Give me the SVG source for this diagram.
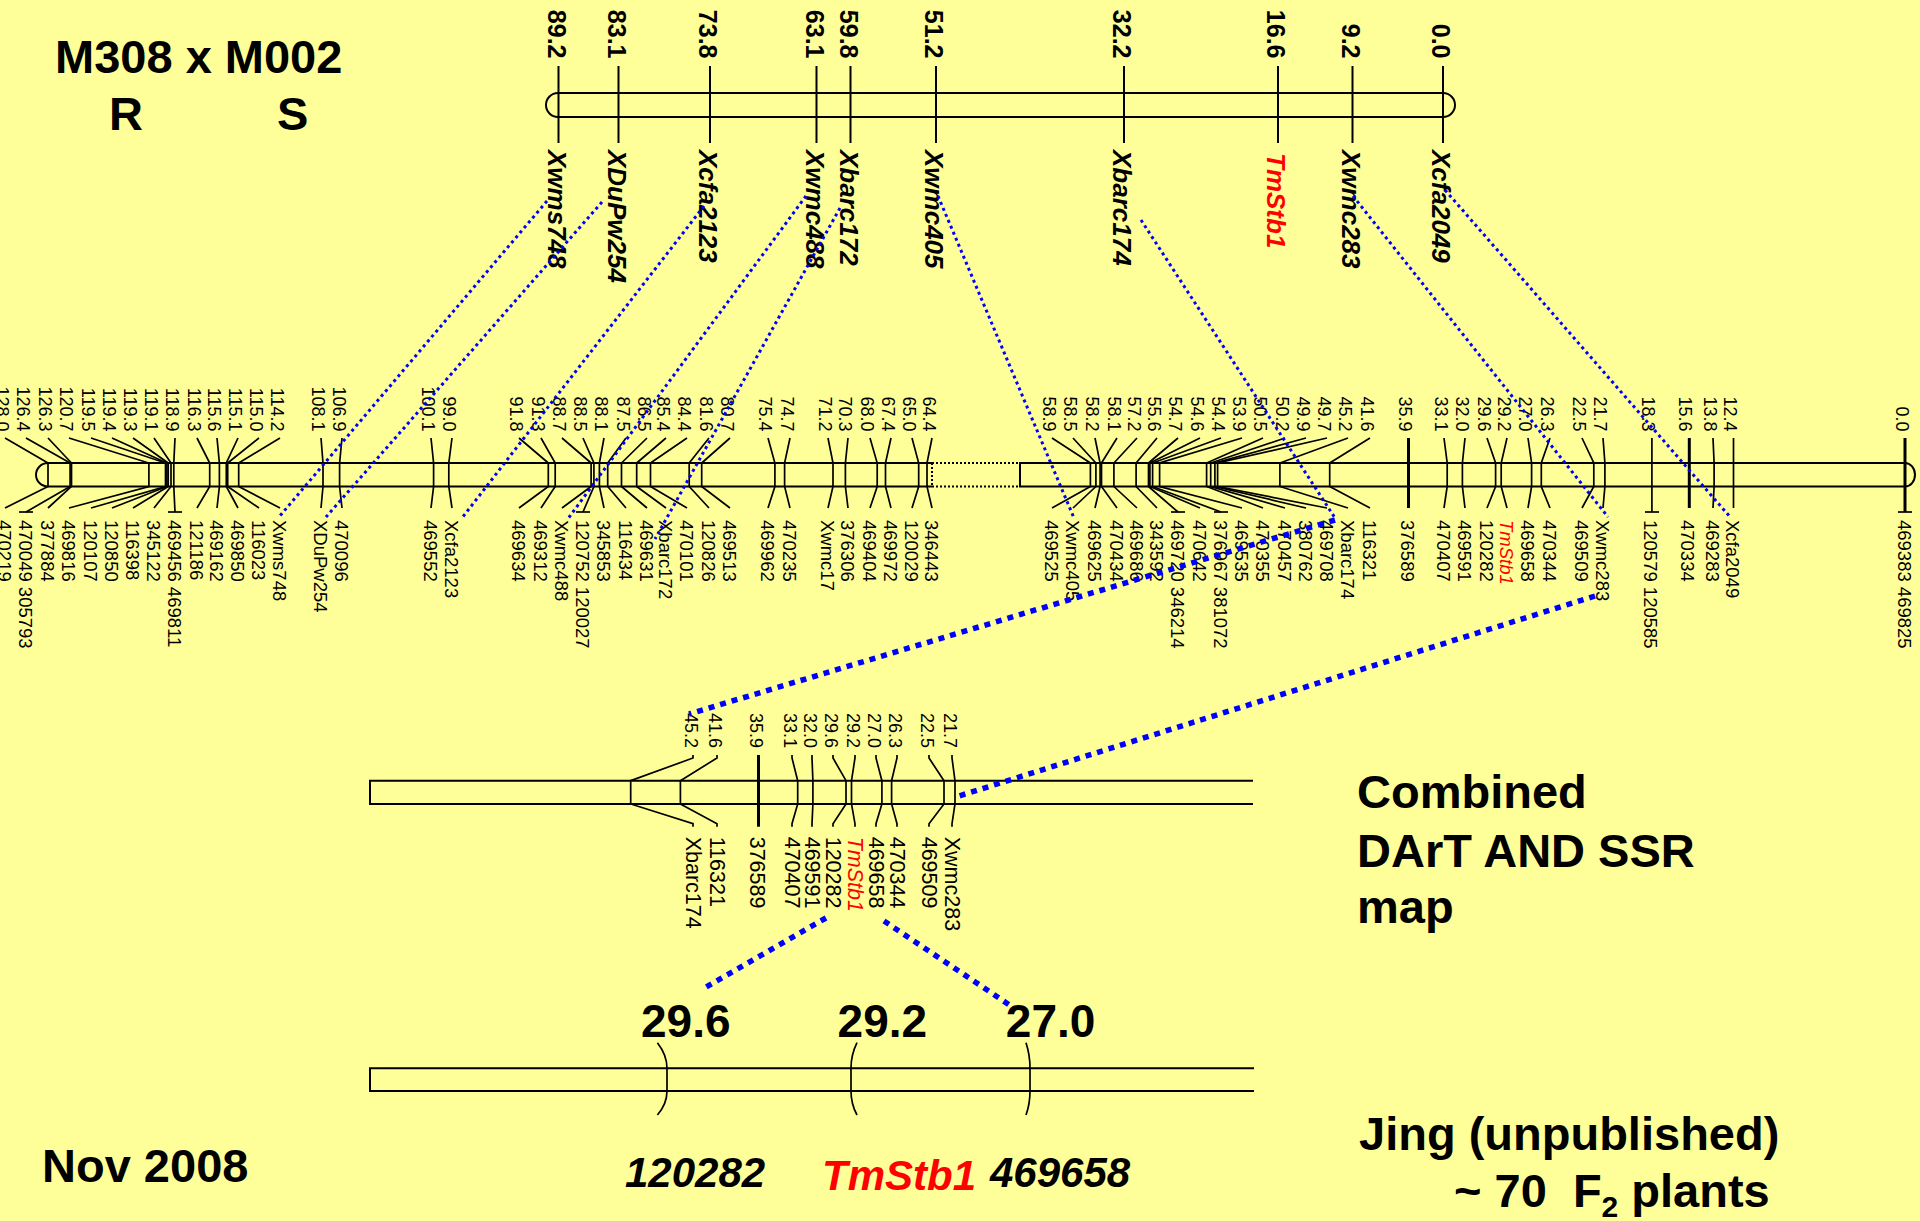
<svg xmlns="http://www.w3.org/2000/svg" width="1920" height="1221" viewBox="0 0 1920 1221">
<style>
text{font-family:'Liberation Sans',Arial,Helvetica,sans-serif;fill:#000}
.big{font-size:47px;font-weight:bold}
.pos{font-size:46px;font-weight:bold}
.loc{font-size:42px;font-weight:bold;font-style:italic}
.r{dominant-baseline:central}
.tn{font-size:25px;font-weight:bold;text-anchor:end}
.tl{font-size:26px;font-weight:bold;font-style:italic}
.mn{font-size:18px;text-anchor:end}
.ml{font-size:18.5px}
.cn{font-size:18px;text-anchor:end}
.cl{font-size:21.5px}
.red{fill:#f00;font-style:italic}
.chr{fill:none;stroke:#000;stroke-width:2}
.tick{stroke:#000;stroke-width:2}
.lk{fill:none;stroke:#000;stroke-width:1.7}
.thick{stroke-width:3}
.dot1{fill:none;stroke:#00f;stroke-width:3;stroke-dasharray:3 3.5}
.dot2{fill:none;stroke:#00f;stroke-width:5.5;stroke-dasharray:6 6}
.gap{fill:none;stroke:#000;stroke-width:2;stroke-dasharray:2 2}
</style>
<rect width="1920" height="1221" fill="#ffff99"/>

<!-- titles and notes -->
<g id="titles">
<text class="big" x="55" y="73">M308 x M002</text>
<text class="big" x="109" y="130">R</text>
<text class="big" x="277" y="130">S</text>
<text class="big" x="1357" y="808">Combined</text>
<text class="big" x="1357" y="866.7">DArT AND SSR</text>
<text class="big" x="1357" y="922.7">map</text>
<text class="big" x="1359" y="1150">Jing (unpublished)</text>
<text class="big" x="1454" y="1206.7" xml:space="preserve">~ 70  F<tspan style="font-size:30px" dy="10">2</tspan><tspan dy="-10"> plants</tspan></text>
<text class="big" x="42" y="1181.7">Nov 2008</text>
</g>

<!-- SSR linkage group -->
<g id="top-map">
<rect class="chr" x="546" y="93" width="909" height="24" rx="12" ry="12"/>
<g id="t-Xwms748"><line class="tick" x1="558.5" y1="66" x2="558.5" y2="143"/><text class="tn r" transform="translate(556.5,58.5) rotate(90)">89.2</text><text class="tl r" transform="translate(556.5,150) rotate(90)">Xwms748</text></g>
<g id="t-XDuPw254"><line class="tick" x1="618.5" y1="66" x2="618.5" y2="143"/><text class="tn r" transform="translate(616.5,58.5) rotate(90)">83.1</text><text class="tl r" transform="translate(616.5,150) rotate(90)">XDuPw254</text></g>
<g id="t-Xcfa2123"><line class="tick" x1="710" y1="66" x2="710" y2="143"/><text class="tn r" transform="translate(708,58.5) rotate(90)">73.8</text><text class="tl r" transform="translate(708,150) rotate(90)">Xcfa2123</text></g>
<g id="t-Xwmc488"><line class="tick" x1="816.5" y1="66" x2="816.5" y2="143"/><text class="tn r" transform="translate(814.5,58.5) rotate(90)">63.1</text><text class="tl r" transform="translate(814.5,150) rotate(90)">Xwmc488</text></g>
<g id="t-Xbarc172"><line class="tick" x1="850.5" y1="66" x2="850.5" y2="143"/><text class="tn r" transform="translate(848.5,58.5) rotate(90)">59.8</text><text class="tl r" transform="translate(848.5,150) rotate(90)">Xbarc172</text></g>
<g id="t-Xwmc405"><line class="tick" x1="936" y1="66" x2="936" y2="143"/><text class="tn r" transform="translate(934,58.5) rotate(90)">51.2</text><text class="tl r" transform="translate(934,150) rotate(90)">Xwmc405</text></g>
<g id="t-Xbarc174"><line class="tick" x1="1124" y1="66" x2="1124" y2="143"/><text class="tn r" transform="translate(1122,58.5) rotate(90)">32.2</text><text class="tl r" transform="translate(1122,150) rotate(90)">Xbarc174</text></g>
<g id="t-TmStb1"><line class="tick" x1="1278" y1="66" x2="1278" y2="143" stroke-width="1.5"/><text class="tn r" transform="translate(1276,58.5) rotate(90)">16.6</text><text class="tl r red" transform="translate(1276,153) rotate(90)">TmStb1</text></g>
<g id="t-Xwmc283"><line class="tick" x1="1352.5" y1="66" x2="1352.5" y2="143"/><text class="tn r" transform="translate(1350.5,58.5) rotate(90)">9.2</text><text class="tl r" transform="translate(1350.5,150) rotate(90)">Xwmc283</text></g>
<g id="t-Xcfa2049"><line class="tick" x1="1443" y1="66" x2="1443" y2="143"/><text class="tn r" transform="translate(1441,58.5) rotate(90)">0.0</text><text class="tl r" transform="translate(1441,150) rotate(90)">Xcfa2049</text></g>
</g>

<!-- DArT + SSR linkage group -->
<g id="middle-map">
<path class="chr" d="M932,463 H48 A12,11.75 0 0 0 48,486.5 H932"/>
<path class="gap" d="M932,463 H1020 M932,486.5 H1020 M932,463 V486.5"/>
<path class="chr" d="M1020,463 H1905 A10,11.75 0 0 1 1905,486.5 H1020 Z"/>

<g id="m-470219"><polyline class="lk" points="5,438 48,463 48,486.5 5,508"/><text class="mn r" transform="translate(2,431.5) rotate(90)">128.0</text><text class="ml r" transform="translate(4,520) rotate(90)">470219</text></g>
<g id="m-470049"><polyline class="lk" points="26,438 70.1,463 70.1,486.5 26,512"/><line class="lk" x1="19" y1="512" x2="33" y2="512"/><text class="mn r" transform="translate(23,431.5) rotate(90)">126.4</text><text class="ml r" transform="translate(25,520) rotate(90)">470049 305793</text></g>
<g id="m-377884"><polyline class="lk" points="48,438 71.5,463 71.5,486.5 48,508"/><text class="mn r" transform="translate(45,431.5) rotate(90)">126.3</text><text class="ml r" transform="translate(47,520) rotate(90)">377884</text></g>
<g id="m-469816"><polyline class="lk" points="69,438 148.9,463 148.9,486.5 69,508"/><text class="mn r" transform="translate(66,431.5) rotate(90)">120.7</text><text class="ml r" transform="translate(68,520) rotate(90)">469816</text></g>
<g id="m-120107"><polyline class="lk" points="91,438 165.5,463 165.5,486.5 91,508"/><text class="mn r" transform="translate(88,431.5) rotate(90)">119.5</text><text class="ml r" transform="translate(90,520) rotate(90)">120107</text></g>
<g id="m-120850"><polyline class="lk" points="112,438 166.9,463 166.9,486.5 112,508"/><text class="mn r" transform="translate(109,431.5) rotate(90)">119.4</text><text class="ml r" transform="translate(111,520) rotate(90)">120850</text></g>
<g id="m-116398"><polyline class="lk" points="133,438 168.2,463 168.2,486.5 133,508"/><text class="mn r" transform="translate(130,431.5) rotate(90)">119.3</text><text class="ml r" transform="translate(132,520) rotate(90)">116398</text></g>
<g id="m-345122"><polyline class="lk" points="154,438 171,463 171,486.5 154,508"/><text class="mn r" transform="translate(151,431.5) rotate(90)">119.1</text><text class="ml r" transform="translate(153,520) rotate(90)">345122</text></g>
<g id="m-469456"><polyline class="lk" points="175,438 173.8,463 173.8,486.5 175,512"/><line class="lk" x1="168" y1="512" x2="182" y2="512"/><text class="mn r" transform="translate(172,431.5) rotate(90)">118.9</text><text class="ml r" transform="translate(174,520) rotate(90)">469456 469811</text></g>
<g id="m-121186"><polyline class="lk" points="197,438 209.7,463 209.7,486.5 197,508"/><text class="mn r" transform="translate(194,431.5) rotate(90)">116.3</text><text class="ml r" transform="translate(196,520) rotate(90)">121186</text></g>
<g id="m-469162"><polyline class="lk" points="217,438 219.4,463 219.4,486.5 217,508"/><text class="mn r" transform="translate(214,431.5) rotate(90)">115.6</text><text class="ml r" transform="translate(216,520) rotate(90)">469162</text></g>
<g id="m-469850"><polyline class="lk" points="238,438 226.3,463 226.3,486.5 238,508"/><text class="mn r" transform="translate(235,431.5) rotate(90)">115.1</text><text class="ml r" transform="translate(237,520) rotate(90)">469850</text></g>
<g id="m-116023"><polyline class="lk" points="259,438 227.7,463 227.7,486.5 259,508"/><text class="mn r" transform="translate(256,431.5) rotate(90)">115.0</text><text class="ml r" transform="translate(258,520) rotate(90)">116023</text></g>
<g id="m-Xwms748"><polyline class="lk" points="280,438 238.7,463 238.7,486.5 280,508"/><text class="mn r" transform="translate(277,431.5) rotate(90)">114.2</text><text class="ml r" transform="translate(279,520) rotate(90)">Xwms748</text></g>
<g id="m-XDuPw254"><polyline class="lk" points="321,438 323,463 323,486.5 321,508"/><text class="mn r" transform="translate(318,431.5) rotate(90)">108.1</text><text class="ml r" transform="translate(320,520) rotate(90)">XDuPw254</text></g>
<g id="m-470096"><polyline class="lk" points="342,438 339.6,463 339.6,486.5 342,508"/><text class="mn r" transform="translate(339,431.5) rotate(90)">106.9</text><text class="ml r" transform="translate(341,520) rotate(90)">470096</text></g>
<g id="m-469552"><polyline class="lk" points="431,438 433.6,463 433.6,486.5 431,508"/><text class="mn r" transform="translate(428,431.5) rotate(90)">100.1</text><text class="ml r" transform="translate(430,520) rotate(90)">469552</text></g>
<g id="m-Xcfa2123"><polyline class="lk" points="452,438 448.8,463 448.8,486.5 452,508"/><text class="mn r" transform="translate(449,431.5) rotate(90)">99.0</text><text class="ml r" transform="translate(451,520) rotate(90)">Xcfa2123</text></g>
<g id="m-469634"><polyline class="lk" points="519,438 548.3,463 548.3,486.5 519,508"/><text class="mn r" transform="translate(516,431.5) rotate(90)">91.8</text><text class="ml r" transform="translate(518,520) rotate(90)">469634</text></g>
<g id="m-469312"><polyline class="lk" points="541,438 555.2,463 555.2,486.5 541,508"/><text class="mn r" transform="translate(538,431.5) rotate(90)">91.3</text><text class="ml r" transform="translate(540,520) rotate(90)">469312</text></g>
<g id="m-Xwmc488"><polyline class="lk" points="562,438 591.1,463 591.1,486.5 562,508"/><text class="mn r" transform="translate(559,431.5) rotate(90)">88.7</text><text class="ml r" transform="translate(561,520) rotate(90)">Xwmc488</text></g>
<g id="m-120752"><polyline class="lk" points="583,438 593.9,463 593.9,486.5 583,512"/><line class="lk" x1="576" y1="512" x2="590" y2="512"/><text class="mn r" transform="translate(580,431.5) rotate(90)">88.5</text><text class="ml r" transform="translate(582,520) rotate(90)">120752 120027</text></g>
<g id="m-345853"><polyline class="lk" points="604,438 599.4,463 599.4,486.5 604,508"/><text class="mn r" transform="translate(601,431.5) rotate(90)">88.1</text><text class="ml r" transform="translate(603,520) rotate(90)">345853</text></g>
<g id="m-116434"><polyline class="lk" points="626,438 607.7,463 607.7,486.5 626,508"/><text class="mn r" transform="translate(623,431.5) rotate(90)">87.5</text><text class="ml r" transform="translate(625,520) rotate(90)">116434</text></g>
<g id="m-469631"><polyline class="lk" points="647,438 621.5,463 621.5,486.5 647,508"/><text class="mn r" transform="translate(644,431.5) rotate(90)">86.5</text><text class="ml r" transform="translate(646,520) rotate(90)">469631</text></g>
<g id="m-Xbarc172"><polyline class="lk" points="666,438 636.7,463 636.7,486.5 666,508"/><text class="mn r" transform="translate(663,431.5) rotate(90)">85.4</text><text class="ml r" transform="translate(665,520) rotate(90)">Xbarc172</text></g>
<g id="m-470101"><polyline class="lk" points="687,438 650.5,463 650.5,486.5 687,508"/><text class="mn r" transform="translate(684,431.5) rotate(90)">84.4</text><text class="ml r" transform="translate(686,520) rotate(90)">470101</text></g>
<g id="m-120826"><polyline class="lk" points="709,438 689.2,463 689.2,486.5 709,508"/><text class="mn r" transform="translate(706,431.5) rotate(90)">81.6</text><text class="ml r" transform="translate(708,520) rotate(90)">120826</text></g>
<g id="m-469513"><polyline class="lk" points="730,438 701.7,463 701.7,486.5 730,508"/><text class="mn r" transform="translate(727,431.5) rotate(90)">80.7</text><text class="ml r" transform="translate(729,520) rotate(90)">469513</text></g>
<g id="m-469962"><polyline class="lk" points="768,438 774.9,463 774.9,486.5 768,508"/><text class="mn r" transform="translate(765,431.5) rotate(90)">75.4</text><text class="ml r" transform="translate(767,520) rotate(90)">469962</text></g>
<g id="m-470235"><polyline class="lk" points="790,438 784.6,463 784.6,486.5 790,508"/><text class="mn r" transform="translate(787,431.5) rotate(90)">74.7</text><text class="ml r" transform="translate(789,520) rotate(90)">470235</text></g>
<g id="m-Xwmc17"><polyline class="lk" points="828,438 833,463 833,486.5 828,508"/><text class="mn r" transform="translate(825,431.5) rotate(90)">71.2</text><text class="ml r" transform="translate(827,520) rotate(90)">Xwmc17</text></g>
<g id="m-376306"><polyline class="lk" points="848,438 845.4,463 845.4,486.5 848,508"/><text class="mn r" transform="translate(845,431.5) rotate(90)">70.3</text><text class="ml r" transform="translate(847,520) rotate(90)">376306</text></g>
<g id="m-469404"><polyline class="lk" points="870,438 877.2,463 877.2,486.5 870,508"/><text class="mn r" transform="translate(867,431.5) rotate(90)">68.0</text><text class="ml r" transform="translate(869,520) rotate(90)">469404</text></g>
<g id="m-469972"><polyline class="lk" points="891,438 885.5,463 885.5,486.5 891,508"/><text class="mn r" transform="translate(888,431.5) rotate(90)">67.4</text><text class="ml r" transform="translate(890,520) rotate(90)">469972</text></g>
<g id="m-120029"><polyline class="lk" points="912,438 918.7,463 918.7,486.5 912,508"/><text class="mn r" transform="translate(909,431.5) rotate(90)">65.0</text><text class="ml r" transform="translate(911,520) rotate(90)">120029</text></g>
<g id="m-346443"><polyline class="lk" points="932,438 927,463 927,486.5 932,508"/><text class="mn r" transform="translate(929,431.5) rotate(90)">64.4</text><text class="ml r" transform="translate(931,520) rotate(90)">346443</text></g>

<g id="m-469525"><polyline class="lk" points="1052,438 1090.4,463 1090.4,486.5 1052,508"/><text class="mn r" transform="translate(1049,431.5) rotate(90)">58.9</text><text class="ml r" transform="translate(1051,520) rotate(90)">469525</text></g>
<g id="m-Xwmc405"><polyline class="lk" points="1073,438 1095.9,463 1095.9,486.5 1073,508"/><text class="mn r" transform="translate(1070,431.5) rotate(90)">58.5</text><text class="ml r" transform="translate(1072,520) rotate(90)">Xwmc405</text></g>
<g id="m-469625"><polyline class="lk" points="1095,438 1100.1,463 1100.1,486.5 1095,508"/><text class="mn r" transform="translate(1092,431.5) rotate(90)">58.2</text><text class="ml r" transform="translate(1094,520) rotate(90)">469625</text></g>
<g id="m-470434"><polyline class="lk" points="1117,438 1101.5,463 1101.5,486.5 1117,508"/><text class="mn r" transform="translate(1114,431.5) rotate(90)">58.1</text><text class="ml r" transform="translate(1116,520) rotate(90)">470434</text></g>
<g id="m-469686"><polyline class="lk" points="1137,438 1113.9,463 1113.9,486.5 1137,508"/><text class="mn r" transform="translate(1134,431.5) rotate(90)">57.2</text><text class="ml r" transform="translate(1136,520) rotate(90)">469686</text></g>
<g id="m-343592"><polyline class="lk" points="1157,438 1136.1,463 1136.1,486.5 1157,508"/><text class="mn r" transform="translate(1154,431.5) rotate(90)">55.6</text><text class="ml r" transform="translate(1156,520) rotate(90)">343592</text></g>
<g id="m-469720"><polyline class="lk" points="1178,438 1148.5,463 1148.5,486.5 1178,512"/><line class="lk" x1="1171" y1="512" x2="1185" y2="512"/><text class="mn r" transform="translate(1175,431.5) rotate(90)">54.7</text><text class="ml r" transform="translate(1177,520) rotate(90)">469720 346214</text></g>
<g id="m-470642"><polyline class="lk" points="1200,438 1149.9,463 1149.9,486.5 1200,508"/><text class="mn r" transform="translate(1197,431.5) rotate(90)">54.6</text><text class="ml r" transform="translate(1199,520) rotate(90)">470642</text></g>
<g id="m-376967"><polyline class="lk" points="1221,438 1152.6,463 1152.6,486.5 1221,512"/><line class="lk" x1="1214" y1="512" x2="1228" y2="512"/><text class="mn r" transform="translate(1218,431.5) rotate(90)">54.4</text><text class="ml r" transform="translate(1220,520) rotate(90)">376967 381072</text></g>
<g id="m-469535"><polyline class="lk" points="1242,438 1159.6,463 1159.6,486.5 1242,508"/><text class="mn r" transform="translate(1239,431.5) rotate(90)">53.9</text><text class="ml r" transform="translate(1241,520) rotate(90)">469535</text></g>
<g id="m-470355"><polyline class="lk" points="1263,438 1206.6,463 1206.6,486.5 1263,508"/><text class="mn r" transform="translate(1260,431.5) rotate(90)">50.5</text><text class="ml r" transform="translate(1262,520) rotate(90)">470355</text></g>
<g id="m-470457"><polyline class="lk" points="1285,438 1210.7,463 1210.7,486.5 1285,508"/><text class="mn r" transform="translate(1282,431.5) rotate(90)">50.2</text><text class="ml r" transform="translate(1284,520) rotate(90)">470457</text></g>
<g id="m-380762"><polyline class="lk" points="1306,438 1214.9,463 1214.9,486.5 1306,508"/><text class="mn r" transform="translate(1303,431.5) rotate(90)">49.9</text><text class="ml r" transform="translate(1305,520) rotate(90)">380762</text></g>
<g id="m-469708"><polyline class="lk" points="1327,438 1217.6,463 1217.6,486.5 1327,508"/><text class="mn r" transform="translate(1324,431.5) rotate(90)">49.7</text><text class="ml r" transform="translate(1326,520) rotate(90)">469708</text></g>
<g id="m-Xbarc174"><polyline class="lk" points="1348,438 1279.9,463 1279.9,486.5 1348,508"/><text class="mn r" transform="translate(1345,431.5) rotate(90)">45.2</text><text class="ml r" transform="translate(1347,520) rotate(90)">Xbarc174</text></g>
<g id="m-116321"><polyline class="lk" points="1370,438 1329.7,463 1329.7,486.5 1370,508"/><text class="mn r" transform="translate(1367,431.5) rotate(90)">41.6</text><text class="ml r" transform="translate(1369,520) rotate(90)">116321</text></g>
<g id="m-376589"><polyline class="lk thick" points="1408.5,438 1408.5,508"/><text class="mn r" transform="translate(1405,431.5) rotate(90)">35.9</text><text class="ml r" transform="translate(1407,520) rotate(90)">376589</text></g>
<g id="m-470407"><polyline class="lk" points="1444,438 1447.2,463 1447.2,486.5 1444,508"/><text class="mn r" transform="translate(1441,431.5) rotate(90)">33.1</text><text class="ml r" transform="translate(1443,520) rotate(90)">470407</text></g>
<g id="m-469591"><polyline class="lk" points="1465,438 1462.4,463 1462.4,486.5 1465,508"/><text class="mn r" transform="translate(1462,431.5) rotate(90)">32.0</text><text class="ml r" transform="translate(1464,520) rotate(90)">469591</text></g>
<g id="m-120282"><polyline class="lk" points="1487,438 1495.6,463 1495.6,486.5 1487,508"/><text class="mn r" transform="translate(1484,431.5) rotate(90)">29.6</text><text class="ml r" transform="translate(1486,520) rotate(90)">120282</text></g>
<g id="m-TmStb1"><polyline class="lk" points="1507,438 1501.2,463 1501.2,486.5 1507,508"/><text class="mn r" transform="translate(1504,431.5) rotate(90)">29.2</text><text class="ml r red" transform="translate(1506,520) rotate(90)">TmStb1</text></g>
<g id="m-469658"><polyline class="lk" points="1528,438 1531.6,463 1531.6,486.5 1528,508"/><text class="mn r" transform="translate(1525,431.5) rotate(90)">27.0</text><text class="ml r" transform="translate(1527,520) rotate(90)">469658</text></g>
<g id="m-470344"><polyline class="lk" points="1550,438 1541.3,463 1541.3,486.5 1550,508"/><text class="mn r" transform="translate(1547,431.5) rotate(90)">26.3</text><text class="ml r" transform="translate(1549,520) rotate(90)">470344</text></g>
<g id="m-469509"><polyline class="lk" points="1582,438 1593.8,463 1593.8,486.5 1582,508"/><text class="mn r" transform="translate(1579,431.5) rotate(90)">22.5</text><text class="ml r" transform="translate(1581,520) rotate(90)">469509</text></g>
<g id="m-Xwmc283"><polyline class="lk" points="1603,438 1604.9,463 1604.9,486.5 1603,508"/><text class="mn r" transform="translate(1600,431.5) rotate(90)">21.7</text><text class="ml r" transform="translate(1602,520) rotate(90)">Xwmc283</text></g>
<g id="m-120579"><polyline class="lk" points="1651.9,438 1651.9,512"/><line class="lk" x1="1645" y1="512" x2="1659" y2="512"/><text class="mn r" transform="translate(1648,431.5) rotate(90)">18.3</text><text class="ml r" transform="translate(1650,520) rotate(90)">120579 120585</text></g>
<g id="m-470334"><polyline class="lk thick" points="1689.3,438 1689.3,508"/><text class="mn r" transform="translate(1685,431.5) rotate(90)">15.6</text><text class="ml r" transform="translate(1687,520) rotate(90)">470334</text></g>
<g id="m-469283"><polyline class="lk" points="1713,438 1714.1,463 1714.1,486.5 1713,508"/><text class="mn r" transform="translate(1710,431.5) rotate(90)">13.8</text><text class="ml r" transform="translate(1712,520) rotate(90)">469283</text></g>
<g id="m-Xcfa2049"><polyline class="lk" points="1733.5,438 1733.5,508"/><text class="mn r" transform="translate(1730,431.5) rotate(90)">12.4</text><text class="ml r" transform="translate(1732,520) rotate(90)">Xcfa2049</text></g>
<g id="m-469383"><polyline class="lk thick" points="1905,438 1905,512"/><line class="lk" x1="1898" y1="512" x2="1912" y2="512"/><text class="mn r" transform="translate(1902,431.5) rotate(90)">0.0</text><text class="ml r" transform="translate(1904,520) rotate(90)">469383 469825</text></g>
</g>

<!-- combined DArT and SSR segment -->
<g id="combined-map">
<path class="chr" d="M1253,780.7 H370 V804 H1253"/>
<g id="c-Xbarc174"><polyline class="lk" points="693,755 693,758 630.7,780.7 630.7,804 693,823.7 693,826.7"/><text class="cn r" transform="translate(690.5,748) rotate(90)">45.2</text><text class="cl r" transform="translate(693,836.7) rotate(90)">Xbarc174</text></g>
<g id="c-116321"><polyline class="lk" points="717,755 717,758 680.4,780.7 680.4,804 717,823.7 717,826.7"/><text class="cn r" transform="translate(714.5,748) rotate(90)">41.6</text><text class="cl r" transform="translate(717,836.7) rotate(90)">116321</text></g>
<g id="c-376589"><polyline class="lk thick" points="758.5,755 758.5,826.7"/><text class="cn r" transform="translate(755.5,748) rotate(90)">35.9</text><text class="cl r" transform="translate(757,836.7) rotate(90)">376589</text></g>
<g id="c-470407"><polyline class="lk" points="792,755 792,758 797.7,780.7 797.7,804 792,823.7 792,826.7"/><text class="cn r" transform="translate(789.5,748) rotate(90)">33.1</text><text class="cl r" transform="translate(792,836.7) rotate(90)">470407</text></g>
<g id="c-469591"><polyline class="lk" points="812,755 812,758 812.9,780.7 812.9,804 812,823.7 812,826.7"/><text class="cn r" transform="translate(809.5,748) rotate(90)">32.0</text><text class="cl r" transform="translate(812,836.7) rotate(90)">469591</text></g>
<g id="c-120282"><polyline class="lk" points="833,755 833,758 846,780.7 846,804 833,823.7 833,826.7"/><text class="cn r" transform="translate(830.5,748) rotate(90)">29.6</text><text class="cl r" transform="translate(833,836.7) rotate(90)">120282</text></g>
<g id="c-TmStb1"><polyline class="lk" points="855,755 855,758 851.5,780.7 851.5,804 855,823.7 855,826.7"/><text class="cn r" transform="translate(852.5,748) rotate(90)">29.2</text><text class="cl r red" transform="translate(855,836.7) rotate(90)">TmStb1</text></g>
<g id="c-469658"><polyline class="lk" points="876,755 876,758 881.9,780.7 881.9,804 876,823.7 876,826.7"/><text class="cn r" transform="translate(873.5,748) rotate(90)">27.0</text><text class="cl r" transform="translate(876,836.7) rotate(90)">469658</text></g>
<g id="c-470344"><polyline class="lk" points="897,755 897,758 891.6,780.7 891.6,804 897,823.7 897,826.7"/><text class="cn r" transform="translate(894.5,748) rotate(90)">26.3</text><text class="cl r" transform="translate(897,836.7) rotate(90)">470344</text></g>
<g id="c-469509"><polyline class="lk" points="929,755 929,758 944,780.7 944,804 929,823.7 929,826.7"/><text class="cn r" transform="translate(926.5,748) rotate(90)">22.5</text><text class="cl r" transform="translate(929,836.7) rotate(90)">469509</text></g>
<g id="c-Xwmc283"><polyline class="lk" points="952,755 952,758 955,780.7 955,804 952,823.7 952,826.7"/><text class="cn r" transform="translate(949.5,748) rotate(90)">21.7</text><text class="cl r" transform="translate(952,836.7) rotate(90)">Xwmc283</text></g>
</g>

<!-- fine-mapped interval -->
<g id="jing-map">
<path class="chr" d="M1254,1068.3 H370 V1091 H1254"/>
<g id="j-120282"><path class="lk" d="M657.4,1042.7 Q667,1055 667,1068 V1091 Q667,1104 657.4,1115"/><text class="pos" x="641" y="1036.7">29.6</text><text class="loc" x="625" y="1187">120282</text></g>
<g id="j-TmStb1"><path class="lk" d="M857,1042.7 Q851,1055 851,1068 V1091 Q851,1104 857,1115"/><text class="pos" x="837.6" y="1036.7">29.2</text><text class="loc" x="822" y="1190" style="fill:#f00">TmStb1</text></g>
<g id="j-469658"><path class="lk" d="M1026,1042.7 Q1030,1055 1030,1068 V1091 Q1030,1104 1026,1115"/><text class="pos" x="1005.8" y="1036.7">27.0</text><text class="loc" x="990" y="1187">469658</text></g>
</g>

<!-- marker correspondences between maps -->
<g id="connectors">
<line class="dot1" x1="547" y1="201" x2="279" y2="517"/>
<line class="dot1" x1="602" y1="202" x2="326" y2="517"/>
<line class="dot1" x1="704" y1="206" x2="462" y2="518"/>
<line class="dot1" x1="806" y1="196" x2="567" y2="520"/>
<line class="dot1" x1="840" y1="208" x2="655" y2="539"/>
<line class="dot1" x1="938" y1="196" x2="1074" y2="518"/>
<line class="dot1" x1="1141" y1="220" x2="1335" y2="518"/>
<line class="dot1" x1="1353" y1="196" x2="1608" y2="517"/>
<line class="dot1" x1="1445" y1="190" x2="1731" y2="518"/>
<line class="dot2" x1="1335" y1="520" x2="689" y2="714"/>
<line class="dot2" x1="1595" y1="596" x2="959" y2="796"/>
<line class="dot2" x1="826" y1="918" x2="706" y2="987"/>
<line class="dot2" x1="884" y1="921" x2="1011" y2="1006"/>
</g>
</svg>
